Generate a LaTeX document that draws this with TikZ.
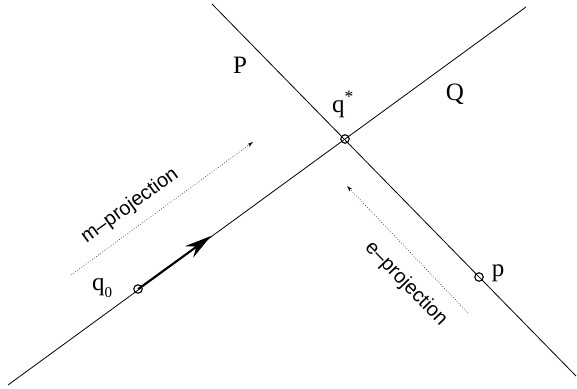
\documentclass[tikz,border=0pt]{standalone}
\usepackage{fontspec}
\setmainfont{Liberation Serif}
\newfontfamily\hv{Liberation Sans}
\usetikzlibrary{arrows.meta}
\begin{document}
\begin{tikzpicture}[x=1pt,y=-1pt,
  thinline/.style={line width=0.8pt},
  pt/.style={circle,draw,line width=1.1pt,inner sep=0pt,minimum size=8.5pt},
  lbl/.style={font=\fontsize{25}{29}\selectfont,inner sep=0pt},
  proj/.style={font=\hv\fontsize{20}{24}\selectfont,inner sep=0pt},
  dotarrow/.style={dotted,line width=0.6pt,-{Stealth[length=6pt,width=3.5pt]}},
  thickarrow/.style={line width=1.8pt,-{Stealth[length=27pt,width=14pt,inset=9pt]}}]
\useasboundingbox (0,0) rectangle (577,388);
% line ends
\coordinate (a1) at (8,385);
\coordinate (a2) at (526,7);
\coordinate (b1) at (212,4);
\coordinate (b2) at (576,376);
\draw[thinline] (a1) -- (a2);
\draw[thinline] (b1) -- (b2);
% points
\node[pt] (qs) at (345,139) {};
\node[pt] (q0) at (138,289) {};
\node[pt] (p) at (479,277) {};
% thick arrow
\coordinate (qa) at (211,236);
\draw[thickarrow] (q0.center) -- (qa);
% dotted arrows
\coordinate (m1) at (71,275);
\coordinate (m2) at (253,142);
\draw[dotarrow] (m1) -- (m2);
\coordinate (e1) at (468,313);
\coordinate (e2) at (347,186);
\draw[dotarrow] (e1) -- (e2);
% labels
\node[lbl] (lP) at (240,65) {P};
\node[lbl] (lQ) at (455,94) {Q};
\node[lbl,anchor=base] (lqs) at (343,112) {q\textsuperscript{*}};
\node[lbl,anchor=base] (lp) at (498,276) {p};
\node[lbl,anchor=base] (lq0) at (102,290) {q\raisebox{-0.28em}{\fontsize{15}{18}\selectfont 0}};
\node[proj,rotate=36] (lm) at (130,206) {m–projection};
\node[proj,rotate=-46] (le) at (406,284) {e–projection};
\end{tikzpicture}
\end{document}
